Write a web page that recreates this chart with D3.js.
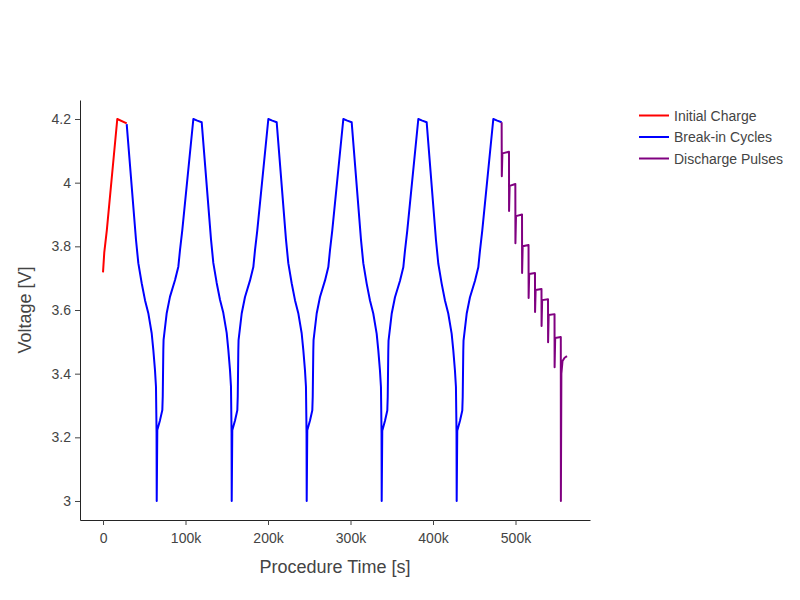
<!DOCTYPE html>
<html>
<head>
<meta charset="utf-8">
<script src="https://cdn.jsdelivr.net/npm/d3@7"></script>
<style>
    body { margin: 0; background: #fff; }
    svg { display: block; }
</style>
</head>
<body>
<script>
// time in seconds, voltage in V
const initialTime = [0, 1500, 4600, 17300, 28700];
const initialVoltage = [3.718, 3.78, 3.85, 4.2, 4.186];

const breakInTime = [
    28700, 40000, 42800, 46900, 50900, 54900, 59000, 61000, 63000, 64200, 64900, 65100, 65800, 69100, 71900, 72400, 73100, 73400, 77200, 81200, 87300, 91300, 93300, 96100, 109500, 114300, 119600,
    130900, 133700, 137800, 141800, 145800, 149900, 151900, 153900, 155100, 155800, 156000, 156700, 160000, 162800, 163300, 164000, 164300, 168100, 172100, 178200, 182200, 184200, 187000, 200400, 205200, 210500,
    221800, 224600, 228700, 232700, 236700, 240800, 242800, 244800, 246000, 246700, 246900, 247600, 250900, 253700, 254200, 254900, 255200, 259000, 263000, 269100, 273100, 275100, 277900, 291300, 296100, 301400,
    312700, 315500, 319600, 323600, 327600, 331700, 333700, 335700, 336900, 337600, 337800, 338500, 341800, 344600, 345100, 345800, 346100, 349900, 353900, 360000, 364000, 366000, 368800, 382200, 387000, 392300,
    403600, 406400, 410500, 414500, 418500, 422600, 424600, 426600, 427800, 428500, 428700, 429400, 432700, 435500, 436000, 436700, 437000, 440800, 444800, 450900, 454900, 456900, 459700, 473100, 477900, 483200
];
const breakInVoltage = [
    4.184, 3.820, 3.747, 3.684, 3.631, 3.590, 3.527, 3.474, 3.411, 3.359, 3.213, 3.000, 3.223, 3.254, 3.286, 3.328, 3.474, 3.506, 3.590, 3.642, 3.694, 3.736, 3.788, 3.851, 4.200, 4.195, 4.190,
    3.822, 3.748, 3.685, 3.632, 3.591, 3.528, 3.475, 3.412, 3.360, 3.214, 3.000, 3.222, 3.253, 3.285, 3.327, 3.473, 3.505, 3.589, 3.641, 3.693, 3.735, 3.787, 3.850, 4.200, 4.195, 4.190,
    3.821, 3.747, 3.684, 3.631, 3.590, 3.527, 3.474, 3.411, 3.359, 3.213, 3.000, 3.222, 3.253, 3.285, 3.327, 3.473, 3.505, 3.589, 3.641, 3.693, 3.735, 3.787, 3.850, 4.200, 4.195, 4.190,
    3.821, 3.747, 3.683, 3.630, 3.589, 3.526, 3.473, 3.410, 3.358, 3.212, 3.000, 3.221, 3.252, 3.284, 3.326, 3.472, 3.504, 3.588, 3.640, 3.692, 3.734, 3.786, 3.849, 4.200, 4.195, 4.190,
    3.820, 3.746, 3.683, 3.630, 3.589, 3.526, 3.473, 3.410, 3.358, 3.212, 3.000, 3.221, 3.252, 3.284, 3.326, 3.472, 3.504, 3.588, 3.640, 3.692, 3.734, 3.786, 3.849, 4.200, 4.195, 4.190
];

const pulseTime = [483200, 483400, 484100, 492100, 492200, 492900, 499800, 499900, 500600, 507900, 508000, 508700, 515800, 515900, 516600, 523600, 523700, 524400, 531500, 531600, 532300, 539400, 539500, 540200, 547300, 547400, 548100, 554900, 555000, 555600, 557000, 559500, 562400];
const pulseVoltage = [4.190, 4.020, 4.092, 4.097, 3.911, 3.990, 3.996, 3.810, 3.895, 3.900, 3.716, 3.800, 3.804, 3.638, 3.713, 3.716, 3.594, 3.663, 3.666, 3.550, 3.631, 3.634, 3.499, 3.584, 3.587, 3.420, 3.512, 3.515, 3.000, 3.400, 3.440, 3.450, 3.455];

const seriesNames = ["Initial Charge", "Break-in Cycles", "Discharge Pulses"];
const seriesColors = ["red", "blue", "purple"];

const xTicks = [0, 100000, 200000, 300000, 400000, 500000];
const yTicks = [3, 3.2, 3.4, 3.6, 3.8, 4, 4.2];

const FONT = "'Liberation Sans', Arial, sans-serif";

class VoltageChart {
    constructor(width, height, margin) {
        this.width = width;
        this.height = height;
        this.margin = margin;
        this.initialize();
    }

    initialize() {
        const { width, height, margin } = this;

        this.svg = d3.select("body")
            .append("svg")
            .attr("width", width)
            .attr("height", height);

        this.x = d3.scaleLinear()
            .domain([-27900, 590300])
            .range([margin.left, width - margin.right]);
        this.y = d3.scaleLinear()
            .domain([2.9403, 4.2597])
            .range([height - margin.bottom, margin.top]);
    }

    drawAxes() {
        const { svg, x, y, margin, width, height } = this;

        const xAxis = svg.append("g")
            .attr("transform", `translate(0,${height - margin.bottom})`)
            .call(d3.axisBottom(x)
                .tickValues(xTicks)
                .tickSize(5)
                .tickSizeOuter(0)
                .tickPadding(8)
                .tickFormat(d => d === 0 ? "0" : (d / 1000) + "k"));

        const yAxis = svg.append("g")
            .attr("transform", `translate(${margin.left},0)`)
            .call(d3.axisLeft(y)
                .tickValues(yTicks)
                .tickSize(5)
                .tickSizeOuter(0)
                .tickPadding(4)
                .tickFormat(d => String(d)));

        [xAxis, yAxis].forEach(g => {
            g.select(".domain").attr("stroke", "#242424").attr("stroke-width", 1);
            g.selectAll(".tick line").attr("stroke", "#444");
            g.selectAll(".tick text")
                .attr("fill", "#444")
                .style("font-family", FONT)
                .style("font-size", "14px");
        });

        svg.append("text")
            .attr("x", (margin.left + width - margin.right) / 2)
            .attr("y", 573)
            .attr("text-anchor", "middle")
            .attr("fill", "#444")
            .style("font-family", FONT)
            .style("font-size", "18px")
            .text("Procedure Time [s]");

        svg.append("text")
            .attr("transform", `translate(31,${(margin.top + height - margin.bottom) / 2}) rotate(-90)`)
            .attr("text-anchor", "middle")
            .attr("fill", "#444")
            .style("font-family", FONT)
            .style("font-size", "18px")
            .text("Voltage [V]");
    }

    drawSeries(times, volts, color) {
        const points = times.map((t, i) => ({ t, v: volts[i] }));
        const line = d3.line()
            .x(d => this.x(d.t))
            .y(d => this.y(d.v));

        this.svg.append("path")
            .datum(points)
            .attr("d", line)
            .attr("fill", "none")
            .attr("stroke", color)
            .attr("stroke-width", 2)
            .attr("stroke-linejoin", "round");
    }

    drawLegend() {
        const legend = this.svg.append("g");
        seriesNames.forEach((name, i) => {
            const cy = 115.5 + i * 21.5;
            legend.append("line")
                .attr("x1", 639)
                .attr("x2", 669)
                .attr("y1", cy)
                .attr("y2", cy)
                .attr("stroke", seriesColors[i])
                .attr("stroke-width", 2);
            legend.append("text")
                .attr("x", 674)
                .attr("y", cy + 5)
                .attr("fill", "#444")
                .style("font-family", FONT)
                .style("font-size", "14px")
                .text(name);
        });
    }
}

const chart = new VoltageChart(800, 600, { top: 100, right: 210, bottom: 80, left: 80 });
chart.drawAxes();
chart.drawSeries(initialTime, initialVoltage, seriesColors[0]);
chart.drawSeries(breakInTime, breakInVoltage, seriesColors[1]);
chart.drawSeries(pulseTime, pulseVoltage, seriesColors[2]);
chart.drawLegend();
</script>
</body>
</html>
